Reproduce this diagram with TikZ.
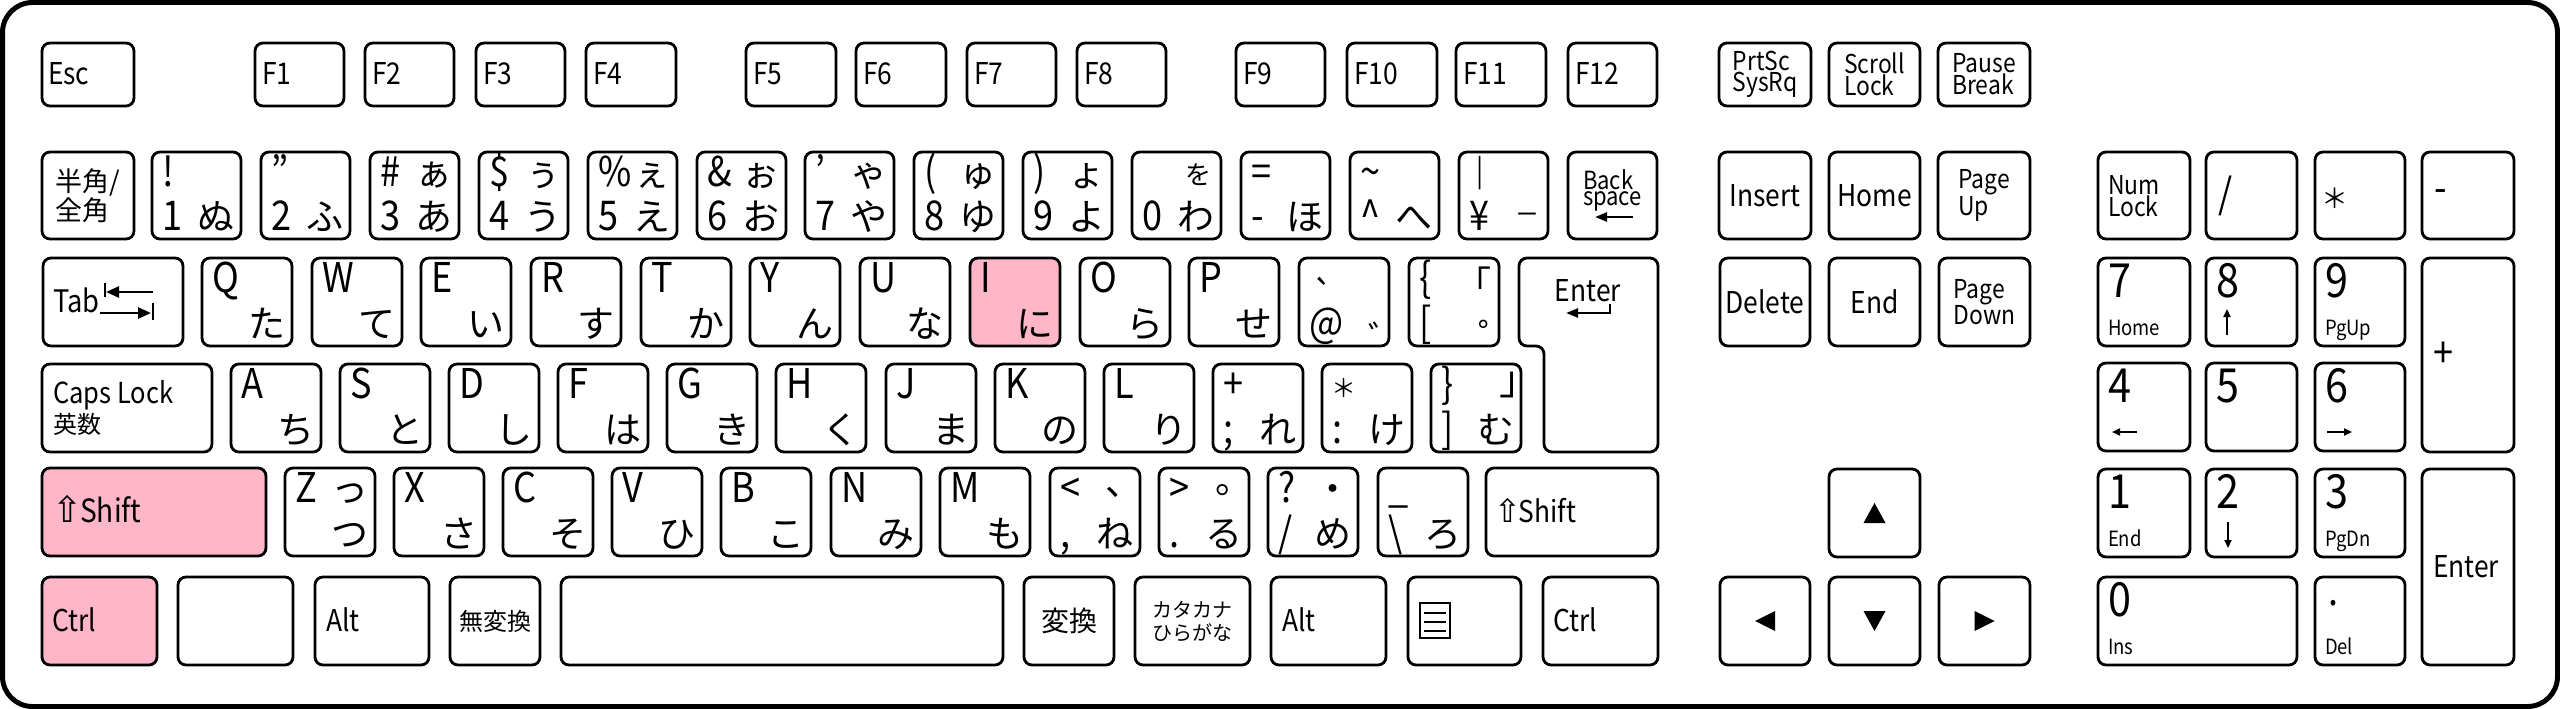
\documentclass[tikz,border=0pt]{standalone}
\usepackage{fontspec}
\setmainfont{Noto Sans CJK JP}[FakeStretch=0.88]
\newfontfamily\jpf{Noto Sans CJK JP}
\newfontfamily\dvs{DejaVu Sans}
\usetikzlibrary{calc,arrows.meta}
\definecolor{keypink}{RGB}{255,182,200}
\tikzset{
  keybox/.style={rectangle,draw=black,line width=2.8pt,rounded corners=8pt,inner sep=0pt,outer sep=0pt},
  keyline/.style={draw=black,line width=2.8pt,rounded corners=8pt,fill=white},
  lab/.style={inner sep=0pt,outer sep=0pt,font=\fontsize{41}{46}\selectfont},
  kana/.style={lab,font=\jpf\fontsize{37}{42}\selectfont},
  sp/.style={lab,font=\fontsize{30}{34}\selectfont},
  jp/.style={lab,font=\jpf\fontsize{27}{30}\selectfont},
  ml/.style={lab,align=left,font=\fontsize{26}{20.5}\selectfont},
  num/.style={lab,font=\fontsize{47}{50}\selectfont},
  tiny/.style={lab,font=\fontsize{21}{24}\selectfont},
  arr/.style={line width=2.5pt,-{Triangle[length=12pt,width=9pt]}},
  sarr/.style={line width=1.8pt,-{Triangle[length=8pt,width=7pt]}},
}
\newcommand\K[6][white]{\node[keybox,fill=#1,minimum width={(#5-#3)*1pt},minimum height={(#6-#4)*1pt}] (#2) at ({(#3+#5)/2},{(#4+#6)/2}) {};}
\newcommand\TL[3][]{\node[lab,anchor=base west,#1] (#2-tl) at ($(#2.north west)+(10,34)$) {#3};}
\newcommand\TR[3][]{\node[kana,anchor=base east,#1] (#2-tr) at ($(#2.north east)+(-7,34)$) {#3};}
\newcommand\BL[3][]{\node[lab,anchor=base west,#1] (#2-bl) at ($(#2.south west)+(10,-9)$) {#3};}
\newcommand\BR[3][]{\node[kana,anchor=base east,#1] (#2-br) at ($(#2.south east)+(-7,-9)$) {#3};}
\newcommand\CL[4][]{\node[sp,anchor=base west,#1] (#2-c) at ($(#2.west)+(#3,10)$) {#4};}
\newcommand\CC[3][]{\node[sp,align=center,#1] (#2-c) at (#2.center) {#3};}
\newcommand\NK[6]{\K{#1}{#2}{152}{#2+89}{239}\TL{#1}{#3}\TR{#1}{#4}\BL{#1}{#5}\BR{#1}{#6}}
\newcommand\LK[6][white]{\K[#1]{#2}{#3}{#4}{#3+90}{#4+88}\TL{#2}{#5}\BR{#2}{#6}}
\newcommand\NP[7]{\K{#1}{#2}{#3}{#4}{#5}\node[num,anchor=base west] (#1-d) at ($(#1.north west)+(10,39)$) {#6};\node[tiny,anchor=base west] (#1-s) at ($(#1.south west)+(10,-11)$) {#7};}
\begin{document}
\begin{tikzpicture}[x=1pt,y=-1pt]
\useasboundingbox (0,0) rectangle (2560,709);
\draw[line width=5pt,rounded corners=30pt] (2.5,2.5) rectangle (2557.5,706.5);
% ---------- function row
\K{esc}{42}{43}{134}{106}\CL{esc}{6}{Esc}
\K{f1}{255}{43}{344}{106}\CL{f1}{7}{F1}
\K{f2}{365}{43}{454}{106}\CL{f2}{7}{F2}
\K{f3}{476}{43}{565}{106}\CL{f3}{7}{F3}
\K{f4}{586}{43}{676}{106}\CL{f4}{7}{F4}
\K{f5}{746}{43}{836}{106}\CL{f5}{7}{F5}
\K{f6}{856}{43}{946}{106}\CL{f6}{7}{F6}
\K{f7}{967}{43}{1056}{106}\CL{f7}{7}{F7}
\K{f8}{1077}{43}{1166}{106}\CL{f8}{7}{F8}
\K{f9}{1236}{43}{1325}{106}\CL{f9}{7}{F9}
\K{f10}{1347}{43}{1437}{106}\CL{f10}{7}{F10}
\K{f11}{1456}{43}{1546}{106}\CL{f11}{7}{F11}
\K{f12}{1568}{43}{1657}{106}\CL{f12}{7}{F12}
\K{prt}{1719}{43}{1811}{106}\CC[ml]{prt}{PrtSc\\SysRq}
\K{scr}{1829}{43}{1920}{106}\CC[ml]{scr}{Scroll\\Lock}
\K{pau}{1938}{43}{2030}{106}\CC[ml]{pau}{Pause\\Break}
% ---------- number row
\K{hz}{42}{152}{134}{239}
\node[jp,anchor=base west] (hz-1) at ($(hz.north west)+(13,39)$) {半角/};
\node[jp,anchor=base west] (hz-2) at ($(hz.north west)+(13,68)$) {全角};
\NK{k1}{152}{!}{}{1}{ぬ}
\NK{k2}{261}{”}{}{2}{ふ}
\NK{k3}{370}{\#}{ぁ}{3}{あ}
\NK{k4}{479}{\$}{ぅ}{4}{う}
\NK{k5}{588}{\%}{ぇ}{5}{え}
\NK{k6}{697}{\&}{ぉ}{6}{お}
\NK{k7}{805}{’}{ゃ}{7}{や}
\NK{k8}{914}{(}{ゅ}{8}{ゆ}
\NK{k9}{1023}{)}{ょ}{9}{よ}
\NK{k0}{1132}{}{}{0}{わ}
\node[kana,anchor=base east,font=\jpf\fontsize{26}{28}\selectfont] (k0-wo) at ($(k0.north east)+(-10,32)$) {を};
\NK{kmin}{1241}{=}{}{-}{ほ}
\NK{kcar}{1350}{\textasciitilde}{}{\textasciicircum}{へ}
\K{kyen}{1459}{152}{1548}{239}
\node[lab,anchor=base west,font=\fontsize{30}{32}\selectfont] (kyen-tl) at ($(kyen.north west)+(17,29)$) {|};
\BL{kyen}{¥}
\node[kana,anchor=base east,font=\jpf\fontsize{22}{24}\selectfont] (kyen-br) at ($(kyen.south east)+(-10,-17)$) {ー};
\K{bs}{1568}{152}{1657}{239}
\node[lab,anchor=north west,align=left,font=\fontsize{25}{16}\selectfont] (bs-1) at ($(bs.north west)+(15,18)$) {Back\\space};
\draw[arr] ($(bs.north west)+(65,65)$) -- ($(bs.north west)+(27,65)$);
% ---------- tab row
\K{tab}{43}{258}{183}{346}\CL[font=\fontsize{31}{34}\selectfont]{tab}{10}{Tab}
\draw[line width=2pt] ($(tab.north west)+(62,25)$) -- ($(tab.north west)+(62,39)$);
\draw[line width=2.5pt,-{Triangle[length=13pt,width=11pt]}] ($(tab.north west)+(110,34)$) -- ($(tab.north west)+(63,34)$);
\draw[line width=2.5pt,-{Triangle[length=13pt,width=11pt]}] ($(tab.north west)+(57,55)$) -- ($(tab.north west)+(108,55)$);
\draw[line width=2pt] ($(tab.north west)+(110,45)$) -- ($(tab.north west)+(110,62)$);
\LK{q}{202}{258}{Q}{た}
\LK{w}{312}{258}{W}{て}
\LK{e}{421}{258}{E}{い}
\LK{r}{531}{258}{R}{す}
\LK{t}{641}{258}{T}{か}
\LK{y}{750}{258}{Y}{ん}
\LK{u}{860}{258}{U}{な}
\LK[keypink]{i}{970}{258}{I}{に}
\LK{o}{1080}{258}{O}{ら}
\LK{p}{1189}{258}{P}{せ}
\K{at}{1299}{258}{1389}{346}
\node[lab,anchor=base west,font=\jpf\fontsize{36}{40}\selectfont] (at-tl) at ($(at.north west)+(13,50)$) {`};
\BL{at}{@}
\node[kana,anchor=base west,font=\jpf\fontsize{34}{38}\selectfont] (at-br) at ($(at.north west)+(69,92)$) {゛};
\K{lb}{1409}{258}{1499}{346}
\TL{lb}{\{}\BL{lb}{[}
\node[kana,anchor=base east,font=\jpf\fontsize{35}{38}\selectfont] (lb-tr) at ($(lb.north west)+(82,38)$) {「};
\node[kana,anchor=base west,font=\jpf\fontsize{37}{40}\selectfont] (lb-br) at ($(lb.north west)+(69,92)$) {゜};
\draw[keyline] (1519,258) -- (1658,258) -- (1658,452) -- (1544,452) -- (1544,346) -- (1519,346) -- cycle;
\coordinate (ent) at (1519,258);
\node[sp,anchor=base] (ent-t) at ($(ent)+(69,43)$) {Enter};
\draw[arr] ($(ent)+(91,46)$) -- ($(ent)+(91,55)$) -- ($(ent)+(47,55)$);
% ---------- caps row
\K{caps}{42}{364}{212}{452}
\node[lab,anchor=base west,font=\fontsize{29}{32}\selectfont] (caps-1) at ($(caps.north west)+(11,39)$) {Caps Lock};
\node[lab,anchor=base west,font=\jpf\fontsize{24}{26}\selectfont] (caps-2) at ($(caps.north west)+(11,69)$) {英数};
\LK{a}{231}{364}{A}{ち}
\LK{s}{340}{364}{S}{と}
\LK{d}{449}{364}{D}{し}
\LK{f}{558}{364}{F}{は}
\LK{g}{667}{364}{G}{き}
\LK{h}{776}{364}{H}{く}
\LK{j}{886}{364}{J}{ま}
\LK{k}{995}{364}{K}{の}
\LK{l}{1104}{364}{L}{り}
\LK{semi}{1213}{364}{+}{れ}\BL{semi}{;}
\K{colon}{1322}{364}{1412}{452}\BR{colon}{け}\BL{colon}{:}
\node[lab,anchor=base west,font=\jpf\fontsize{25}{28}\selectfont] (colon-tl) at ($(colon.north west)+(9,33)$) {＊};
\LK{rb}{1431}{364}{\}}{む}\BL{rb}{]}
\node[kana,anchor=base west,font=\jpf\fontsize{40}{44}\selectfont] (rb-tr) at ($(rb.north west)+(68,30)$) {」};
% ---------- shift row
\K[keypink]{lsh}{42}{468}{266}{556}
\CL[font=\fontsize{32}{34}\selectfont]{lsh}{10}{{\dvs\fontsize{36}{36}\selectfont ⇧}\kern-2pt Shift}
\LK{z}{285}{468}{Z}{つ}\TR{z}{っ}
\LK{x}{394}{468}{X}{さ}
\LK{c}{503}{468}{C}{そ}
\LK{v}{612}{468}{V}{ひ}
\LK{b}{721}{468}{B}{こ}
\LK{n}{831}{468}{N}{み}
\LK{m}{940}{468}{M}{も}
\LK{comma}{1050}{468}{<}{ね}\BL{comma}{,}
\node[kana,anchor=base west] (comma-tr) at ($(comma.north west)+(55,27)$) {、};
\LK{period}{1159}{468}{>}{る}\BL{period}{.}
\node[kana,anchor=base west] (period-tr) at ($(period.north west)+(56,25)$) {。};
\LK{slash}{1268}{468}{?}{め}\TR{slash}{・}\BL{slash}{/}
\LK{bsl}{1378}{468}{\_}{ろ}\BL{bsl}{\textbackslash}
\K{rsh}{1486}{468}{1658}{556}
\CL[font=\fontsize{30}{32}\selectfont]{rsh}{8}{{\dvs\fontsize{32}{32}\selectfont ⇧}\kern-2pt Shift}
% ---------- bottom row
\K[keypink]{lctrl}{42}{577}{157}{665}\CL{lctrl}{10}{Ctrl}
\K{lwin}{178}{577}{293}{665}
\K{lalt}{315}{577}{429}{665}\CL{lalt}{11}{Alt}
\K{muhen}{450}{577}{540}{665}\CC[font=\jpf\fontsize{24}{26}\selectfont]{muhen}{無変換}
\K{space}{561}{577}{1003}{665}
\K{henkan}{1024}{577}{1114}{665}\CC[font=\jpf\fontsize{28}{30}\selectfont]{henkan}{変換}
\K{kata}{1135}{577}{1250}{665}
\node[lab,anchor=base,font=\jpf\fontsize{20}{22}\selectfont] (kata-1) at ($(kata.north)+(0,40)$) {カタカナ};
\node[lab,anchor=base,font=\jpf\fontsize{20}{22}\selectfont] (kata-2) at ($(kata.north)+(0,63)$) {ひらがな};
\K{ralt}{1271}{577}{1386}{665}\CL{ralt}{11}{Alt}
\K{menu}{1408}{577}{1521}{665}
\draw[line width=2.5pt] ($(menu.west)+(12,-18)$) rectangle ($(menu.west)+(42,17)$);
\draw[line width=2.2pt] ($(menu.west)+(16,-8)$) -- ++(22,0);
\draw[line width=2.2pt] ($(menu.west)+(16,1)$) -- ++(22,0);
\draw[line width=2.2pt] ($(menu.west)+(16,10)$) -- ++(22,0);
\K{rctrl}{1543}{577}{1658}{665}\CL{rctrl}{10}{Ctrl}
% ---------- navigation block
\K{ins}{1719}{152}{1811}{239}\CC{ins}{Insert}
\K{home}{1829}{152}{1920}{239}\CC{home}{Home}
\K{pgup}{1938}{152}{2030}{239}\CC[ml]{pgup}{Page\\Up}
\K{delk}{1720}{258}{1810}{346}\CC{delk}{Delete}
\K{endk}{1829}{258}{1920}{346}\CC{endk}{End}
\K{pgdn}{1939}{258}{2030}{346}\CC[ml]{pgdn}{Page\\Down}
\K{aup}{1829}{469}{1920}{557}
\K{aleft}{1720}{577}{1810}{665}
\K{adown}{1829}{577}{1920}{665}
\K{aright}{1939}{577}{2030}{665}
\fill ($(aup.center)+(-11,10)$) -- ++(22,0) -- ++(-11,-20) -- cycle;
\fill ($(adown.center)+(-11,-10)$) -- ++(22,0) -- ++(-11,20) -- cycle;
\fill ($(aleft.center)+(10,-10)$) -- ++(0,20) -- ++(-20,-10) -- cycle;
\fill ($(aright.center)+(-10,-10)$) -- ++(0,20) -- ++(20,-10) -- cycle;
% ---------- numeric keypad
\K{nlock}{2098}{152}{2190}{239}
\node[ml,anchor=west] (nlock-c) at ($(nlock.west)+(10,1)$) {Num\\Lock};
\K{ndiv}{2206}{152}{2297}{239}\node[lab,anchor=west] (ndiv-c) at ($(ndiv.west)+(12,0)$) {/};
\K{nmul}{2315}{152}{2405}{239}\node[lab,anchor=base west,font=\jpf\fontsize{27}{30}\selectfont] (nmul-c) at ($(nmul.north west)+(6,56)$) {＊};
\K{nsub}{2422}{152}{2514}{239}\node[lab,anchor=west] (nsub-c) at ($(nsub.west)+(12,1)$) {-};
\NP{n7}{2098}{258}{2190}{346}{7}{Home}
\NP{n8}{2206}{258}{2297}{346}{8}{}
\NP{n9}{2315}{258}{2405}{346}{9}{PgUp}
\NP{n4}{2098}{363}{2190}{451}{4}{}
\NP{n5}{2206}{363}{2297}{451}{5}{}
\NP{n6}{2315}{363}{2405}{451}{6}{}
\NP{n1}{2098}{469}{2190}{557}{1}{End}
\NP{n2}{2206}{469}{2297}{557}{2}{}
\NP{n3}{2315}{469}{2405}{557}{3}{PgDn}
\NP{n0}{2098}{577}{2297}{665}{0}{Ins}
\NP{ndel}{2315}{577}{2405}{665}{}{Del}
\node[lab,anchor=center] (ndel-d2) at ($(ndel.north west)+(18,26)$) {.};
\draw[sarr] ($(n8.north west)+(21,77)$) -- ($(n8.north west)+(21,51)$);
\draw[sarr] ($(n2.north west)+(22,53)$) -- ($(n2.north west)+(22,79)$);
\draw[sarr] ($(n4.north west)+(39,69)$) -- ($(n4.north west)+(14,69)$);
\draw[sarr] ($(n6.north west)+(12,69)$) -- ($(n6.north west)+(37,69)$);
\K{nplus}{2422}{258}{2514}{452}\node[lab,anchor=west] (nplus-c) at ($(nplus.west)+(11,0)$) {+};
\K{nent}{2422}{469}{2514}{665}\CL{nent}{11}{Enter}
\end{tikzpicture}
\end{document}
